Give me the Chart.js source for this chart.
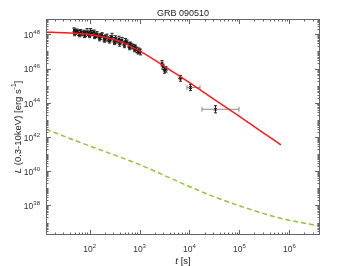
<!DOCTYPE html>
<html>
<head>
<meta charset="utf-8">
<script src="https://cdn.jsdelivr.net/npm/chart.js@4"></script>
<style>
html, body { margin: 0; padding: 0; background: #fff; }
#wrap { width: 354px; height: 266px; }
</style>
</head>
<body>
<div id="wrap"><canvas id="grbChart" width="354" height="266"></canvas></div>
<script>
// model curves as log10(t) / log10(L)
const redLogT = [1.127, 1.5, 2.0, 2.25, 2.5, 2.75, 3.0, 3.25, 3.5, 3.75, 4.0, 4.5, 5.0, 5.5, 5.83];
const redLogL = [48.13, 48.09, 47.99, 47.86, 47.68, 47.40, 47.03, 46.60, 46.13, 45.66, 45.18, 44.19, 43.20, 42.20, 41.54];
const greenLogT = [1.127, 1.82, 3.02, 3.82, 4.49, 5.15, 5.82, 6.613];
const greenLogL = [42.45, 41.67, 40.36, 39.33, 38.51, 37.83, 37.25, 36.79];

// XRT data points (log10 t, log10 L, L error in dex)
const obsLogT = [1.69, 1.72, 1.75, 1.78, 1.82, 1.85, 1.89, 1.92, 1.95, 1.98, 2.02, 2.05, 2.09, 2.12,
  2.15, 2.19, 2.22, 2.25, 2.29, 2.32, 2.35, 2.39, 2.42, 2.45, 2.49, 2.52, 2.55, 2.59, 2.62, 2.65,
  2.69, 2.72, 2.75, 2.79, 2.82, 2.85, 2.89, 2.92, 2.95, 2.99, 3.02,
  1.70, 1.80, 1.90, 2.00, 2.10, 2.20, 2.30, 2.40, 2.50, 2.60, 2.70, 2.80, 2.90, 2.97,
  3.45, 3.47, 3.50, 3.53, 3.82, 4.02, 4.52];
const obsLogL = [48.26, 48.15, 48.20, 48.08, 48.16, 48.05, 48.13, 48.02, 48.16, 48.06, 48.20, 48.07, 48.13, 47.95,
  48.01, 47.90, 47.87, 47.97, 47.77, 47.85, 47.81, 47.70, 47.77, 47.87, 47.67, 47.77, 47.61, 47.73, 47.57, 47.67,
  47.48, 47.60, 47.54, 47.38, 47.42, 47.30, 47.28, 47.22, 47.09, 47.05, 46.97,
  48.05, 47.98, 47.95, 47.93, 47.88, 47.76, 47.66, 47.62, 47.52, 47.45, 47.35, 47.22, 47.12, 46.98,
  46.31, 46.10, 45.90, 45.95, 45.43, 44.89, 43.62];
const obsErrL = [0.12, 0.14, 0.11, 0.15, 0.12, 0.13, 0.11, 0.15, 0.18, 0.12, 0.14, 0.15, 0.12, 0.14,
  0.15, 0.12, 0.16, 0.13, 0.15, 0.12, 0.20, 0.13, 0.15, 0.19, 0.13, 0.15, 0.12, 0.16, 0.13, 0.15,
  0.12, 0.16, 0.13, 0.15, 0.13, 0.15, 0.13, 0.15, 0.16, 0.15, 0.17,
  0.13, 0.12, 0.14, 0.12, 0.13, 0.14, 0.12, 0.13, 0.12, 0.14, 0.13, 0.12, 0.14, 0.13,
  0.16, 0.15, 0.17, 0.16, 0.17, 0.18, 0.21];
// horizontal (time bin) bars in dex, only the late points have visible ones
const binLogTLo = [0.02, 0.02, 0.02, 0.02, 0.02, 0.02, 0.02, 0.02, 0.02, 0.02, 0.02, 0.02, 0.02, 0.02,
  0.02, 0.02, 0.02, 0.02, 0.02, 0.02, 0.02, 0.02, 0.02, 0.02, 0.02, 0.02, 0.02, 0.02, 0.02, 0.02,
  0.02, 0.02, 0.02, 0.02, 0.02, 0.02, 0.02, 0.02, 0.02, 0.02, 0.02,
  0.02, 0.02, 0.02, 0.02, 0.02, 0.02, 0.02, 0.02, 0.02, 0.02, 0.02, 0.02, 0.02, 0.02,
  0.03, 0.03, 0.03, 0.03, 0.05, 0.07, 0.27];
const binLogTHi = [0.02, 0.02, 0.02, 0.02, 0.02, 0.02, 0.02, 0.02, 0.02, 0.02, 0.02, 0.02, 0.02, 0.02,
  0.02, 0.02, 0.02, 0.02, 0.02, 0.02, 0.02, 0.02, 0.02, 0.02, 0.02, 0.02, 0.02, 0.02, 0.02, 0.02,
  0.02, 0.02, 0.02, 0.02, 0.02, 0.02, 0.02, 0.02, 0.02, 0.02, 0.02,
  0.02, 0.02, 0.02, 0.02, 0.02, 0.02, 0.02, 0.02, 0.02, 0.02, 0.02, 0.02, 0.02, 0.02,
  0.03, 0.03, 0.03, 0.03, 0.05, 0.19, 0.47];

const xTicks = [1e2, 1e3, 1e4, 1e5, 1e6];
const yTicks = [1e38, 1e40, 1e42, 1e44, 1e46, 1e48];

const FONT = "'Liberation Sans', Arial, sans-serif";

function toPoints(lt, ll) {
  return lt.map((t, i) => ({ x: Math.pow(10, t), y: Math.pow(10, ll[i]) }));
}

const errorBars = {
  id: 'errorBars',
  beforeDatasetsDraw(chart) {
    const { ctx, scales: { x, y } } = chart;
    ctx.save();
    ctx.lineWidth = 1;
    obsLogT.forEach((lt, i) => {
      const px = x.getPixelForValue(Math.pow(10, lt));
      const py = y.getPixelForValue(Math.pow(10, obsLogL[i]));
      const x0 = x.getPixelForValue(Math.pow(10, lt - binLogTLo[i]));
      const x1 = x.getPixelForValue(Math.pow(10, lt + binLogTHi[i]));
      const big = binLogTLo[i] + binLogTHi[i] > 0.2;
      ctx.strokeStyle = big ? '#8a8a8a' : '#222';
      ctx.beginPath();
      ctx.moveTo(x0, py); ctx.lineTo(x1, py);
      if (big) {
        ctx.moveTo(x0, py - 2.5); ctx.lineTo(x0, py + 2.5);
        ctx.moveTo(x1, py - 2.5); ctx.lineTo(x1, py + 2.5);
      }
      ctx.stroke();
      const y0 = y.getPixelForValue(Math.pow(10, obsLogL[i] + obsErrL[i]));
      const y1 = y.getPixelForValue(Math.pow(10, obsLogL[i] - obsErrL[i]));
      ctx.strokeStyle = '#222';
      ctx.beginPath();
      ctx.moveTo(px, y0); ctx.lineTo(px, y1);
      ctx.moveTo(px - 1.5, y0); ctx.lineTo(px + 1.5, y0);
      ctx.moveTo(px - 1.5, y1); ctx.lineTo(px + 1.5, y1);
      ctx.stroke();
    });
    ctx.restore();
  }
};

function drawPow10(ctx, v, xPos, yPos, align) {
  const e = String(Math.round(Math.log10(v)));
  ctx.font = '8.5px ' + FONT;
  const wb = ctx.measureText('10').width;
  ctx.font = '6px ' + FONT;
  const we = ctx.measureText(e).width;
  let left = xPos;
  if (align === 'center') left = xPos - (wb + we) / 2;
  if (align === 'right') left = xPos - (wb + we);
  ctx.textAlign = 'left';
  ctx.font = '8.5px ' + FONT;
  ctx.fillText('10', left, yPos);
  ctx.font = '6px ' + FONT;
  ctx.fillText(e, left + wb, yPos - 3.5);
}

// IDL-style box with inward ticks and the text around the plot
const frame = {
  id: 'frame',
  afterDraw(chart) {
    const { ctx, chartArea: a, scales: { x, y } } = chart;
    ctx.save();
    ctx.strokeStyle = '#666';
    ctx.lineWidth = 1;
    ctx.strokeRect(a.left + 0.5, a.top + 0.5, a.right - a.left - 1, a.bottom - a.top - 1);
    ctx.beginPath();
    for (let e = 1; e <= 6; e++) {
      for (let m = 1; m <= 9; m++) {
        const v = m * Math.pow(10, e);
        if (v < x.min || v > x.max) continue;
        const px = Math.round(x.getPixelForValue(v)) + 0.5;
        const len = m === 1 ? 5 : 2.5;
        ctx.moveTo(px, a.bottom); ctx.lineTo(px, a.bottom - len);
        ctx.moveTo(px, a.top); ctx.lineTo(px, a.top + len);
      }
    }
    for (let e = 36; e <= 48; e++) {
      for (let m = 1; m <= 9; m++) {
        const v = m * Math.pow(10, e);
        if (v < y.min || v > y.max) continue;
        const py = Math.round(y.getPixelForValue(v)) + 0.5;
        const len = (m === 1 && e % 2 === 0) ? 5 : 2.5;
        ctx.moveTo(a.left, py); ctx.lineTo(a.left + len, py);
        ctx.moveTo(a.right, py); ctx.lineTo(a.right - len, py);
      }
    }
    ctx.stroke();

    ctx.fillStyle = '#333';
    ctx.textBaseline = 'middle';
    xTicks.forEach(v => drawPow10(ctx, v, x.getPixelForValue(v), 250, 'center'));
    yTicks.forEach(v => drawPow10(ctx, v, a.left - 6, y.getPixelForValue(v) + 1.5, 'right'));

    ctx.fillStyle = '#222';
    ctx.textAlign = 'center';
    ctx.font = '9px ' + FONT;
    ctx.fillText('GRB 090510', (a.left + a.right) / 2, 13.5);

    // x title: italic t
    const xt1 = 't', xt2 = ' [s]';
    ctx.font = 'italic 9.5px ' + FONT;
    const w1 = ctx.measureText(xt1).width;
    ctx.font = '9.5px ' + FONT;
    const w2 = ctx.measureText(xt2).width;
    const sx = (a.left + a.right) / 2 - (w1 + w2) / 2;
    ctx.textAlign = 'left';
    ctx.font = 'italic 9.5px ' + FONT;
    ctx.fillText(xt1, sx, 261);
    ctx.font = '9.5px ' + FONT;
    ctx.fillText(xt2, sx + w1, 261);

    // y title, rotated, with superscript
    ctx.translate(18, (a.top + a.bottom) / 2);
    ctx.rotate(-Math.PI / 2);
    const parts = [
      { t: 'L', f: 'italic 9.5px ' + FONT, dy: 0 },
      { t: ' (0.3-10keV) [erg s', f: '9.5px ' + FONT, dy: 0 },
      { t: '-1', f: '6.5px ' + FONT, dy: -3.5 },
      { t: ']', f: '9.5px ' + FONT, dy: 0 }
    ];
    let total = 0;
    parts.forEach(p => { ctx.font = p.f; p.w = ctx.measureText(p.t).width; total += p.w; });
    let cx = -total / 2;
    parts.forEach(p => { ctx.font = p.f; ctx.fillText(p.t, cx, p.dy); cx += p.w; });
    ctx.restore();
  }
};

const ctx = document.getElementById('grbChart').getContext('2d');
const grbChart = new Chart(ctx, {
  type: 'scatter',
  data: {
    datasets: [
      {
        label: 'model',
        data: toPoints(redLogT, redLogL),
        showLine: true,
        borderColor: '#ff1a1a',
        borderWidth: 1.5,
        pointRadius: 0,
        cubicInterpolationMode: 'monotone',
        fill: false,
      },
      {
        label: 'XRT',
        data: toPoints(obsLogT, obsLogL),
        showLine: false,
        pointStyle: 'crossRot',
        pointRadius: 2,
        pointBorderColor: '#111',
        pointBorderWidth: 1,
      },
      {
        label: 'component',
        data: toPoints(greenLogT, greenLogL),
        showLine: true,
        borderColor: '#8fc43c',
        borderWidth: 1.5,
        borderDash: [5, 3],
        pointRadius: 0,
        cubicInterpolationMode: 'monotone',
        fill: false,
      },
    ]
  },
  options: {
    responsive: false,
    animation: false,
    devicePixelRatio: 1,
    layout: { padding: { top: 19, right: 34, left: 0, bottom: 0 } },
    plugins: {
      legend: { display: false },
      tooltip: { enabled: false },
      title: { display: false },
    },
    scales: {
      x: {
        type: 'logarithmic',
        min: 13.4,
        max: 4.1e6,
        afterBuildTicks: s => { s.ticks = xTicks.map(v => ({ value: v })); },
        afterFit: s => { s.height = 31; },
        grid: { display: false, drawTicks: false },
        border: { display: false },
        ticks: { display: false },
      },
      y: {
        type: 'logarithmic',
        min: 1.86e36,
        max: 7.9e48,
        afterBuildTicks: s => { s.ticks = yTicks.map(v => ({ value: v })); },
        afterFit: s => { s.width = 46; },
        grid: { display: false, drawTicks: false },
        border: { display: false },
        ticks: { display: false },
      },
    },
  },
  plugins: [errorBars, frame],
});
</script>
</body>
</html>
